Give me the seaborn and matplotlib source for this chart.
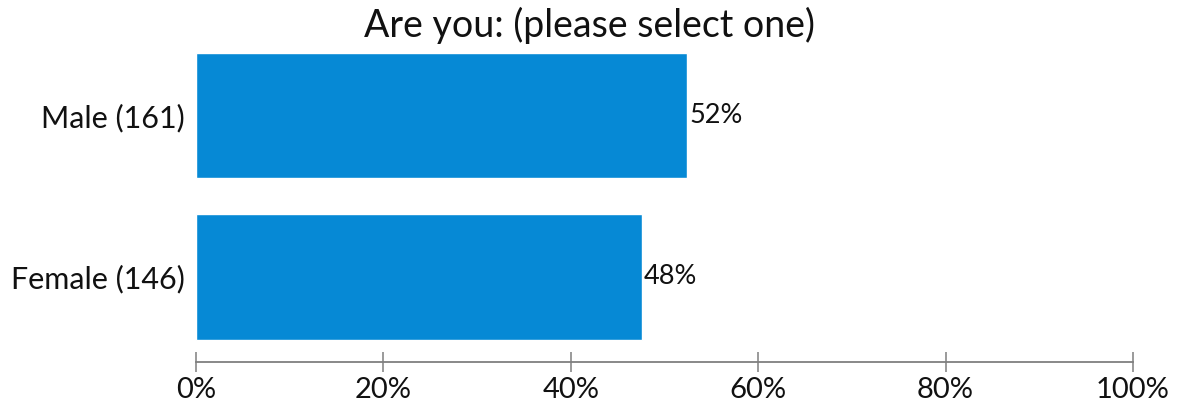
import numpy as np
import pandas as pd
import matplotlib
matplotlib.use("Agg")
import matplotlib.pyplot as plt
import seaborn as sns

# Survey responses
categories = ["Male", "Female"]
counts = [161, 146]
x_ticks = [0, 20, 40, 60, 80, 100]
title = "Are you: (please select one)"

total = sum(counts)
percent = [c / total * 100 for c in counts]
labels = [f"{cat} ({n})" for cat, n in zip(categories, counts)]
df = pd.DataFrame({"label": labels, "percent": percent})

sns.set_theme(style="white")
plt.rcParams["font.family"] = ["Lato", "DejaVu Sans"]

fig = plt.figure(figsize=(11.79, 4.05), dpi=100)
ax = fig.add_axes([0.1662, 0.106, 0.7948, 0.7755])

bar_color = "#0689D5"
sns.barplot(data=df, x="percent", y="label", orient="h", color=bar_color,
            saturation=1, width=0.78, ax=ax)

for i, p in enumerate(percent):
    ax.text(p + 0.2, i, f"{p:.0f}%", va="center", ha="left",
            fontsize=19.5, color="#111111")

ax.set_xlim(0, 100)
ax.set_ylim(1.53, -0.42)
ax.set_xticks(x_ticks)
ax.set_xticklabels([f"{t}%" for t in x_ticks])
ax.set_xlabel("")
ax.set_ylabel("")

for side in ["top", "right", "left"]:
    ax.spines[side].set_visible(False)
ax.spines["bottom"].set_color("#7f7f7f")
ax.spines["bottom"].set_linewidth(1.3)
ax.tick_params(axis="x", bottom=True, direction="inout", length=14, width=1.1,
               color="#7f7f7f", labelsize=21, labelcolor="#111111", pad=4)
ax.tick_params(axis="y", left=False, length=0, labelsize=22,
               labelcolor="#111111", pad=8)

fig.suptitle(title, fontsize=27, color="#111111", y=0.982)

fig.savefig("out.png", dpi=100, facecolor="white")
